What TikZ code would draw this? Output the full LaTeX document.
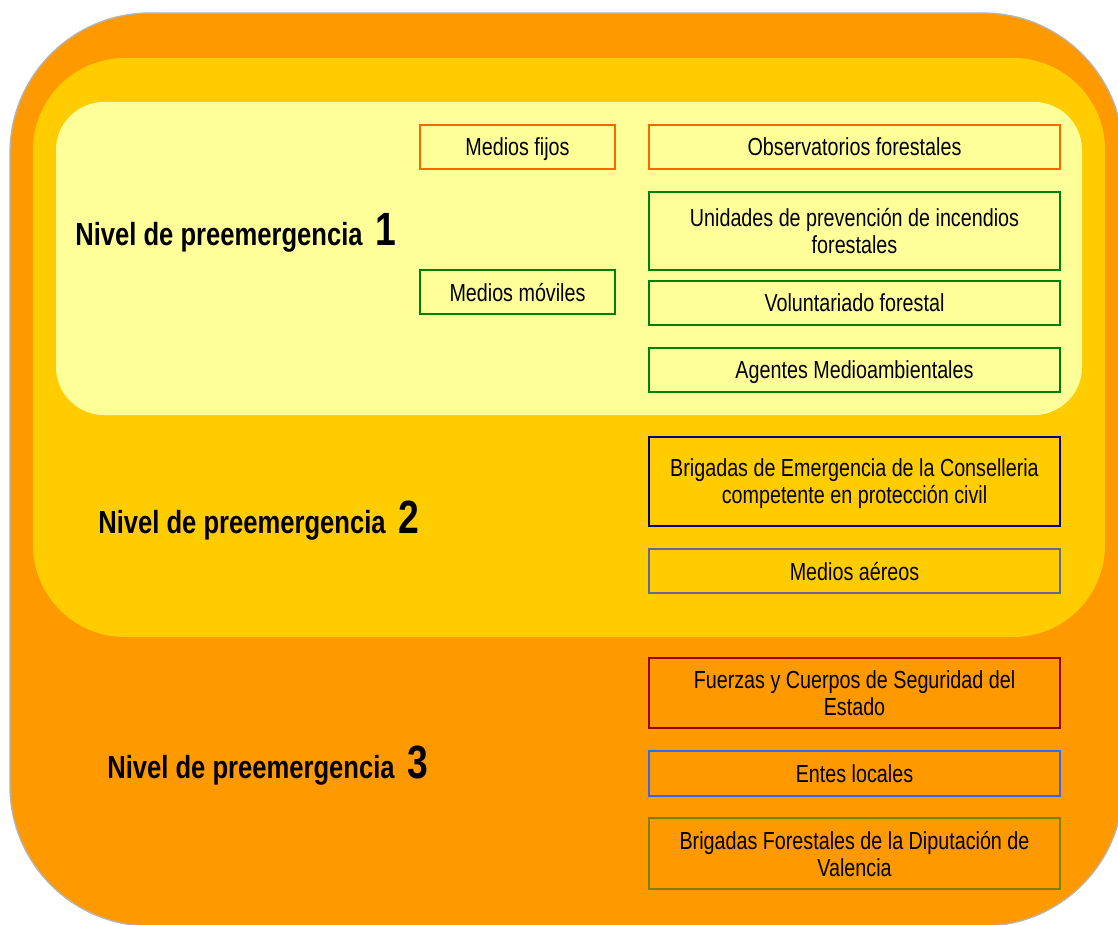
\documentclass[tikz,border=0pt]{standalone}
\usepackage{fontspec}
\setmainfont{Liberation Sans}[FakeStretch=0.8]

\definecolor{fondoTres}{HTML}{FF9900}
\definecolor{fondoDos}{HTML}{FFCC00}
\definecolor{fondoUno}{HTML}{FFFF99}
\definecolor{bordeGris}{HTML}{B4B4B4}
\definecolor{naranja}{HTML}{FF6600}
\definecolor{verde}{HTML}{008000}
\definecolor{marino}{HTML}{000080}
\definecolor{pizarra}{HTML}{666699}
\definecolor{granate}{HTML}{990000}
\definecolor{azul}{HTML}{3366FF}
\definecolor{oliva}{HTML}{808000}

\begin{document}
\begin{tikzpicture}
  [x=.75pt,y=-.75pt,every node/.style={inner sep=0pt}]
  \tikzstyle{medio} = [draw,line width=1.1pt,shape=rectangle,align=center,
    text depth=0pt,font=\fontsize{18.5}{20.25}\selectfont]
  \tikzstyle{nivel} = [anchor=base west,font=\fontsize{24}{28}\bfseries\selectfont]
  \useasboundingbox (0,0) rectangle (1118,925);
  \clip (0,0) rectangle (1118,925);
  \filldraw[fill=fondoTres,draw=bordeGris,line width=1pt,rounded corners=105pt] (10,13) rectangle (1123,926);
  \fill[fondoDos,rounded corners=69pt] (33,58) rectangle (1105,637);
  \fill[fondoUno,rounded corners=36pt] (56,102) rectangle (1082,415);

  \node[nivel] (nivel1) at (75,245) {Nivel de preemergencia\hspace{4pt} {\fontsize{35}{36}\selectfont 1}};
  \node[nivel] (nivel2) at (98,533) {Nivel de preemergencia\hspace{4pt} {\fontsize{35}{36}\selectfont 2}};
  \node[nivel] (nivel3) at (107,778) {Nivel de preemergencia\hspace{4pt} {\fontsize{35}{36}\selectfont 3}};

\foreach \name/\x/\y/\w/\h/\col/\txt in {
    fijos/517.5/147/146.25/33/naranja/{Medios fijos},
    moviles/517.5/292/146.25/33/verde/{Medios móviles},
    observatorios/854.5/147/308.25/33/naranja/{Observatorios forestales},
    unidades/854.5/231/308.25/58.5/verde/{Unidades de prevención de incendios\\forestales},
    voluntariado/854.5/303/308.25/33/verde/{Voluntariado forestal},
    agentes/854.5/370/308.25/33/verde/{Agentes Medioambientales},
    brigadasEm/854.5/481.5/308.25/66.75/marino/{Brigadas de Emergencia de la Conselleria\\competente en protección civil},
    aereos/854.5/571/308.25/33/pizarra/{Medios aéreos},
    fuerzas/854.5/693/308.25/52.5/granate/{Fuerzas y Cuerpos de Seguridad del\\Estado},
    entes/854.5/773.5/308.25/33.75/azul/{Entes locales},
    brigadasFor/854.5/853.5/308.25/53.25/oliva/{Brigadas Forestales de la Diputación de\\Valencia}}
   \node[medio,draw=\col,minimum width=\w pt,minimum height=\h pt] (\name) at (\x,\y) {\txt};

\end{tikzpicture}
\end{document}
